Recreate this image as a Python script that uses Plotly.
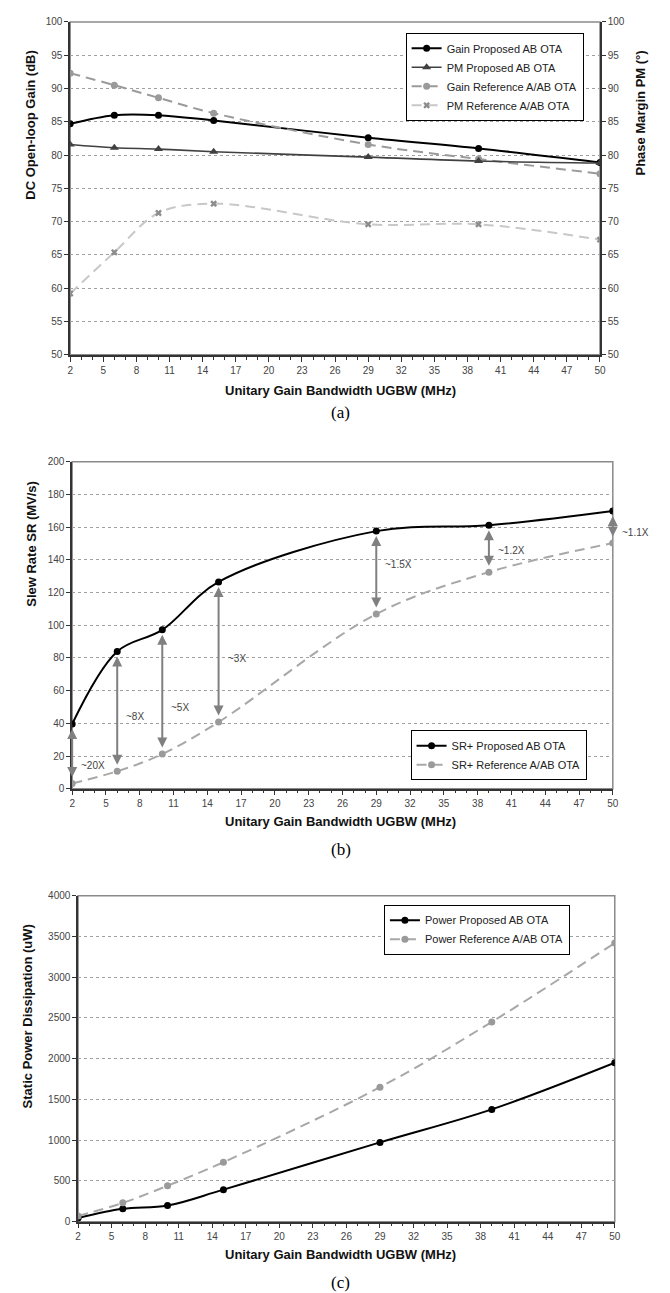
import plotly.graph_objects as go

# ---------------- data ----------------
ugbw = [2, 6, 10, 15, 29, 39, 50]

# (a)
gain_proposed = [84.7, 86.0, 86.0, 85.2, 82.6, 81.0, 78.9]
pm_proposed = [81.6, 81.1, 80.9, 80.5, 79.7, 79.1, 78.8]
gain_reference = [92.3, 90.5, 88.6, 86.3, 81.6, 79.4, 77.2]
pm_reference = [59.2, 65.4, 71.3, 72.7, 69.6, 69.6, 67.3]

# (b)
sr_proposed = [39.6, 84.0, 97.2, 126.5, 157.6, 161.2, 169.9]
sr_reference = [3.2, 10.7, 21.2, 40.8, 106.9, 132.5, 150.3]
sr_ratio_labels = ["~20X", "~8X", "~5X", "~3X", "~1.5X", "~1.2X", "~1.1X"]

# (c)
power_proposed = [45, 158, 198, 393, 973, 1378, 1950]
power_reference = [69, 231, 441, 730, 1650, 2452, 3420]

x_tick_vals = list(range(2, 51, 3))

# ---------------- layout helpers ----------------
W, H = 670, 1293
def px(x):
    return x / W
def py(y):
    return 1 - y / H

SANS = "Liberation Sans, Arial, sans-serif"
SERIF = "Liberation Serif, Times New Roman, serif"
DASH = "10px,6px"

fig = go.Figure()

# ---- (a) ----
fig.add_trace(go.Scatter(x=ugbw, y=gain_proposed, name="Gain Proposed AB OTA",
                         mode="lines+markers", line=dict(color="#000000", width=2, shape="spline"),
                         marker=dict(symbol="circle", size=7, color="#000000"),
                         xaxis="x", yaxis="y", legend="legend"))
fig.add_trace(go.Scatter(x=ugbw, y=pm_proposed, name="PM Proposed AB OTA",
                         mode="lines+markers", line=dict(color="#404040", width=1.6, shape="spline"),
                         marker=dict(symbol="triangle-up", size=8, color="#404040"),
                         xaxis="x", yaxis="y2", legend="legend"))
fig.add_trace(go.Scatter(x=ugbw, y=gain_reference, name="Gain Reference A/AB OTA",
                         mode="lines+markers", line=dict(color="#9a9a9a", width=2, dash=DASH, shape="spline"),
                         marker=dict(symbol="circle", size=7, color="#9a9a9a"),
                         xaxis="x", yaxis="y", legend="legend"))
fig.add_trace(go.Scatter(x=ugbw, y=pm_reference, name="PM Reference A/AB OTA",
                         mode="lines+markers", line=dict(color="#c8c8c8", width=2, dash=DASH, shape="spline"),
                         marker=dict(symbol="x", size=6, color="#8c8c8c"),
                         xaxis="x", yaxis="y2", legend="legend"))

# ---- (b) ----
fig.add_trace(go.Scatter(x=ugbw, y=sr_proposed, name="SR+ Proposed AB OTA",
                         mode="lines+markers", line=dict(color="#000000", width=2, shape="spline"),
                         marker=dict(symbol="circle", size=7, color="#000000"),
                         xaxis="x2", yaxis="y3", legend="legend2"))
fig.add_trace(go.Scatter(x=ugbw, y=sr_reference, name="SR+ Reference A/AB OTA",
                         mode="lines+markers", line=dict(color="#a8a8a8", width=2, dash=DASH, shape="spline"),
                         marker=dict(symbol="circle", size=7, color="#9a9a9a"),
                         xaxis="x2", yaxis="y3", legend="legend2"))

# ---- (c) ----
fig.add_trace(go.Scatter(x=ugbw, y=power_proposed, name="Power Proposed AB OTA",
                         mode="lines+markers", line=dict(color="#000000", width=2, shape="spline"),
                         marker=dict(symbol="circle", size=7, color="#000000"),
                         xaxis="x3", yaxis="y4", legend="legend3"))
fig.add_trace(go.Scatter(x=ugbw, y=power_reference, name="Power Reference A/AB OTA",
                         mode="lines+markers", line=dict(color="#a8a8a8", width=2, dash=DASH, shape="spline"),
                         marker=dict(symbol="circle", size=7, color="#9a9a9a"),
                         xaxis="x3", yaxis="y4", legend="legend3"))

tickfont = dict(family=SANS, size=10, color="#444444")

def xaxis_def(domain, anchor):
    return dict(domain=domain, anchor=anchor, range=[2, 50], tickmode="array",
                tickvals=x_tick_vals, ticks="outside", ticklen=5, tickcolor="#333333",
                minor=dict(dtick=1, tick0=2, ticks="outside", ticklen=3, tickcolor="#333333"),
                showline=True, linecolor="#333333", linewidth=1.5, showgrid=False,
                zeroline=False, tickfont=tickfont, fixedrange=True)

def yaxis_def(domain, anchor, rng, dtick, side="left", grid=True):
    return dict(domain=domain, anchor=anchor, range=rng, dtick=dtick, side=side,
                ticks="outside", ticklen=4, tickcolor="#333333",
                showline=True, linecolor="#333333", linewidth=1.5,
                showgrid=grid, gridcolor="#a0a0a0", griddash="dot", gridwidth=1,
                zeroline=False, tickfont=tickfont, fixedrange=True)

dom_a_x = [px(60), px(597)]
dom_a_y = [py(344), py(8)]
dom_b_x = [px(62), px(610)]
dom_b_y = [py(782), py(452)]
dom_c_x = [px(68), px(612)]
dom_c_y = [py(1219), py(890)]

legend_common = dict(bgcolor="#ffffff", bordercolor="#000000", borderwidth=1,
                     font=dict(family=SANS, size=11, color="#222222"),
                     xanchor="left", yanchor="top", itemclick=False, itemdoubleclick=False)

fig.update_layout(
    width=W, height=H, margin=dict(l=0, r=0, t=0, b=0),
    paper_bgcolor="#ffffff", plot_bgcolor="#ffffff",
    showlegend=True,
    xaxis=xaxis_def(dom_a_x, "y"),
    yaxis=yaxis_def(dom_a_y, "x", [50, 100], 5),
    yaxis2=dict(yaxis_def(dom_a_y, "x", [50, 100], 5, side="right", grid=False), overlaying="y"),
    xaxis2=xaxis_def(dom_b_x, "y3"),
    yaxis3=yaxis_def(dom_b_y, "x2", [0, 200], 20),
    xaxis3=xaxis_def(dom_c_x, "y4"),
    yaxis4=yaxis_def(dom_c_y, "x3", [0, 4000], 500),
    legend=dict(legend_common, x=px(400), y=py(19)),
    legend2=dict(legend_common, x=px(405), y=py(723)),
    legend3=dict(legend_common, x=px(378), y=py(899)),
)

# plot-area borders (gray) for the top/right edges
shapes = []
for xr, yr in [("x", "y"), ("x2", "y3"), ("x3", "y4")]:
    shapes.append(dict(type="rect", xref=f"{xr} domain", yref=f"{yr} domain",
                       x0=0, x1=1, y0=0, y1=1, line=dict(color="#8a8a8a", width=1.5),
                       layer="below"))
fig.update_layout(shapes=shapes)

annotations = []
title_font = dict(family=SANS, size=13, color="#111111")
# x-axis titles
for ypix in [380, 815, 1252]:
    annotations.append(dict(text="<b>Unitary Gain Bandwidth UGBW (MHz)</b>", xref="paper", yref="paper",
                            x=px(334), y=py(ypix), showarrow=False, font=title_font,
                            xanchor="center", yanchor="middle"))
# y-axis titles
annotations.append(dict(text="<b>DC Open-loop Gain (dB)</b>", xref="paper", yref="paper",
                        x=px(20), y=py(112), textangle=-90, showarrow=False, font=title_font,
                        xanchor="center", yanchor="middle"))
annotations.append(dict(text="<b>Phase Margin PM (°)</b>", xref="paper", yref="paper",
                        x=px(638), y=py(100), textangle=-90, showarrow=False, font=title_font,
                        xanchor="center", yanchor="middle"))
annotations.append(dict(text="<b>Slew Rate SR (MV/s)</b>", xref="paper", yref="paper",
                        x=px(20), y=py(535), textangle=-90, showarrow=False, font=title_font,
                        xanchor="center", yanchor="middle"))
annotations.append(dict(text="<b>Static Power Dissipation (uW)</b>", xref="paper", yref="paper",
                        x=px(17), y=py(1012), textangle=-90, showarrow=False, font=title_font,
                        xanchor="center", yanchor="middle"))
# panel labels
for lab, ypix in [("(a)", 402), ("(b)", 843), ("(c)", 1280)]:
    annotations.append(dict(text=lab, xref="paper", yref="paper", x=px(334), y=py(ypix),
                            showarrow=False, font=dict(family=SERIF, size=17, color="#000000"),
                            xanchor="center", yanchor="middle"))

# (b) double-headed arrows between the two series and ratio labels
label_yshift = [-12, -5, -16, -6, 8, -2, -5]
for xv, hi, lo, lab, ys in zip(ugbw, sr_proposed, sr_reference, sr_ratio_labels, label_yshift):
    annotations.append(dict(x=xv, y=hi, ax=xv, ay=lo, xref="x2", yref="y3", axref="x2", ayref="y3",
                            text="", showarrow=True, arrowhead=2, startarrowhead=2,
                            arrowside="end+start", arrowsize=1, startarrowsize=1,
                            arrowwidth=2, arrowcolor="#808080", standoff=5, startstandoff=5))
    annotations.append(dict(x=xv, y=(hi + lo) / 2, xref="x2", yref="y3", text=lab,
                            showarrow=False, xanchor="left", yanchor="middle",
                            xshift=7, yshift=ys,
                            font=dict(family=SANS, size=10, color="#444444")))

fig.update_layout(annotations=annotations)

fig.write_html("out.html")
